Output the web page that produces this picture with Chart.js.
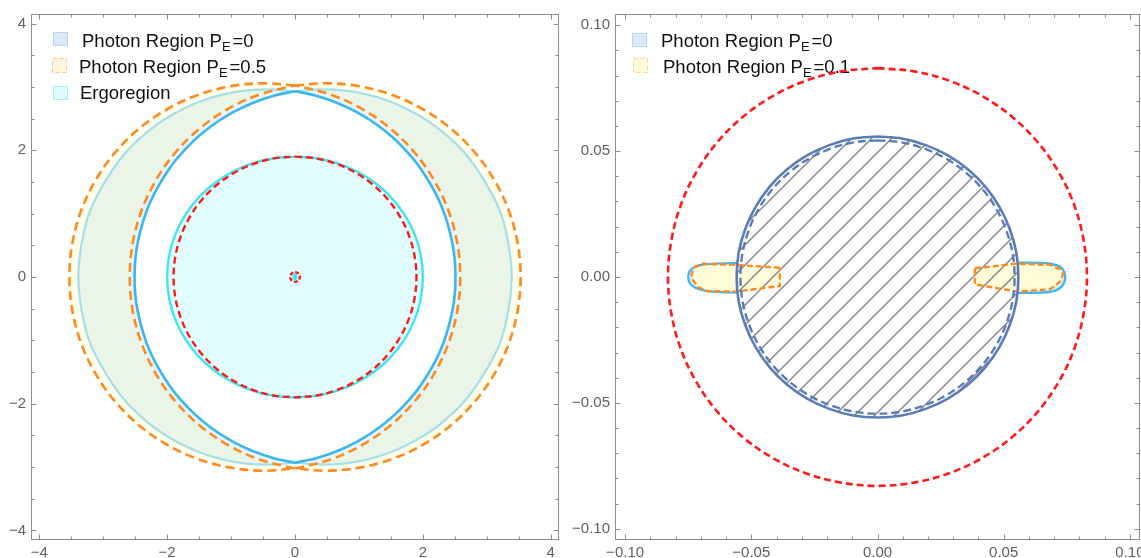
<!DOCTYPE html>
<html>
<head>
<meta charset="utf-8">
<script src="https://cdn.jsdelivr.net/npm/chart.js@4/dist/chart.umd.min.js"></script>
<style>
  html, body { margin: 0; padding: 0; background: #ffffff; overflow: hidden; width: 1141px; height: 558px; }
  .panel { position: absolute; top: 0; }
  #panelLeft { left: 0; width: 570px; height: 558px; }
  #panelRight { left: 570px; width: 590px; height: 558px; }
  canvas { display: block; }
</style>
</head>
<body>
<div class="panel" id="panelLeft"><canvas id="leftChart" width="570" height="558"></canvas></div>
<div class="panel" id="panelRight"><canvas id="rightChart" width="590" height="558"></canvas></div>
<script>
// ---------- Left panel: photon regions (P_E = 0 and 0.5), ergoregion, horizons ----------
const leftTickValues = [-4, -2, 0, 2, 4];
const leftTickLabels = ['\u22124', '\u22122', '0', '2', '4'];

// Photon region P_E = 0, outer boundary (top -> right/left -> bottom)
const pe0OuterRight = [[0,2.93],[0.400,2.961],[0.761,2.944],[1.139,2.877],[1.516,2.757],[1.907,2.568],[2.306,2.293],[2.714,1.886],[3.128,1.220],[3.299,0.727],[3.39,0],[3.299,-0.727],[3.128,-1.220],[2.714,-1.886],[2.306,-2.293],[1.907,-2.568],[1.516,-2.757],[1.139,-2.877],[0.761,-2.944],[0.400,-2.961],[0,-2.93]];
const pe0OuterLeft = [[0,2.93],[-0.400,2.961],[-0.761,2.944],[-1.139,2.877],[-1.516,2.757],[-1.907,2.568],[-2.306,2.293],[-2.714,1.886],[-3.128,1.220],[-3.299,0.727],[-3.39,0],[-3.299,-0.727],[-3.128,-1.220],[-2.714,-1.886],[-2.306,-2.293],[-1.907,-2.568],[-1.516,-2.757],[-1.139,-2.877],[-0.761,-2.944],[-0.400,-2.961],[0,-2.93]];
// Photon region P_E = 0, inner boundary
const pe0InnerRight = [[0,2.93],[0.316,2.864],[0.652,2.750],[0.988,2.589],[1.318,2.375],[1.642,2.094],[1.964,1.713],[2.278,1.151],[2.463,0.528],[2.51,0],[2.463,-0.528],[2.278,-1.151],[1.964,-1.713],[1.642,-2.094],[1.318,-2.375],[0.988,-2.589],[0.652,-2.750],[0.316,-2.864],[0,-2.93]];
const pe0InnerLeft = [[0,2.93],[-0.316,2.864],[-0.652,2.750],[-0.988,2.589],[-1.318,2.375],[-1.642,2.094],[-1.964,1.713],[-2.278,1.151],[-2.463,0.528],[-2.51,0],[-2.463,-0.528],[-2.278,-1.151],[-1.964,-1.713],[-1.642,-2.094],[-1.318,-2.375],[-0.988,-2.589],[-0.652,-2.750],[-0.316,-2.864],[0,-2.93]];

// Photon region P_E = 0.5, outer and inner arcs
const pe05OuterRight = [[0,3.020],[0.473,3.057],[1.004,3.011],[1.519,2.873],[2.001,2.647],[2.438,2.342],[2.814,1.965],[3.119,1.529],[3.346,1.046],[3.483,0.531],[3.530,0],[3.483,-0.531],[3.346,-1.046],[3.119,-1.529],[2.814,-1.965],[2.438,-2.342],[2.001,-2.647],[1.519,-2.873],[1.004,-3.011],[0.473,-3.057],[0,-3.020]];
const pe05OuterLeft = [[0,3.020],[-0.473,3.057],[-1.004,3.011],[-1.519,2.873],[-2.001,2.647],[-2.438,2.342],[-2.814,1.965],[-3.119,1.529],[-3.346,1.046],[-3.483,0.531],[-3.530,0],[-3.483,-0.531],[-3.346,-1.046],[-3.119,-1.529],[-2.814,-1.965],[-2.438,-2.342],[-2.001,-2.647],[-1.519,-2.873],[-1.004,-3.011],[-0.473,-3.057],[0,-3.020]];
const pe05InnerRight = [[0,3.020],[0.058,3.011],[0.574,2.873],[1.057,2.647],[1.493,2.342],[1.870,1.965],[2.175,1.529],[2.401,1.046],[2.539,0.531],[2.585,0],[2.539,-0.531],[2.401,-1.046],[2.175,-1.529],[1.870,-1.965],[1.493,-2.342],[1.057,-2.647],[0.574,-2.873],[0.058,-3.011],[0,-3.020]];
const pe05InnerLeft = [[0,3.020],[-0.058,3.011],[-0.574,2.873],[-1.057,2.647],[-1.493,2.342],[-1.870,1.965],[-2.175,1.529],[-2.401,1.046],[-2.539,0.531],[-2.585,0],[-2.539,-0.531],[-2.401,-1.046],[-2.175,-1.529],[-1.870,-1.965],[-1.493,-2.342],[-1.057,-2.647],[-0.574,-2.873],[-0.058,-3.011],[0,-3.020]];

// Ergoregion boundary
const ergoRight = [[0,1.900],[0.330,1.874],[0.654,1.797],[0.963,1.668],[1.249,1.488],[1.501,1.260],[1.711,0.988],[1.869,0.680],[1.967,0.347],[2.000,0],[1.967,-0.347],[1.869,-0.680],[1.711,-0.988],[1.501,-1.260],[1.249,-1.488],[0.963,-1.668],[0.654,-1.797],[0.330,-1.874],[0,-1.900]];
const ergoLeft = [[0,1.900],[-0.330,1.874],[-0.654,1.797],[-0.963,1.668],[-1.249,1.488],[-1.501,1.260],[-1.711,0.988],[-1.869,0.680],[-1.967,0.347],[-2.000,0],[-1.967,-0.347],[-1.869,-0.680],[-1.711,-0.988],[-1.501,-1.260],[-1.249,-1.488],[-0.963,-1.668],[-0.654,-1.797],[-0.330,-1.874],[0,-1.900]];

// Outer horizon
const horizonRight = [[0,1.9],[0.330,1.871],[0.650,1.785],[0.950,1.645],[1.221,1.455],[1.455,1.221],[1.645,0.950],[1.785,0.650],[1.871,0.330],[1.9,0],[1.871,-0.330],[1.785,-0.650],[1.645,-0.950],[1.455,-1.221],[1.221,-1.455],[0.950,-1.645],[0.650,-1.785],[0.330,-1.871],[0,-1.9]];
const horizonLeft = [[0,1.9],[-0.330,1.871],[-0.650,1.785],[-0.950,1.645],[-1.221,1.455],[-1.455,1.221],[-1.645,0.950],[-1.785,0.650],[-1.871,0.330],[-1.9,0],[-1.871,-0.330],[-1.785,-0.650],[-1.645,-0.950],[-1.455,-1.221],[-1.221,-1.455],[-0.950,-1.645],[-0.650,-1.785],[-0.330,-1.871],[0,-1.9]];

// Inner horizon and inner ergosurface near the centre
const innerHorizon = [[0,0.075],[0.0375,0.065],[0.065,0.0375],[0.075,0],[0.065,-0.0375],[0.0375,-0.065],[0,-0.075],[-0.0375,-0.065],[-0.065,-0.0375],[-0.075,0],[-0.065,0.0375],[-0.0375,0.065],[0,0.075]];
const innerErgo = [[0,0.07],[0.03,0.035],[0.04,0],[0.03,-0.035],[0,-0.07],[-0.03,-0.035],[-0.04,0],[-0.03,0.035],[0,0.07]];

// ---------- Right panel: close-up near the horizon (P_E = 0 and 0.1) ----------
const rightTickValues = [-0.1, -0.05, 0, 0.05, 0.1];
const rightTickLabels = ['\u22120.10', '\u22120.05', '0.00', '0.05', '0.10'];

const outerDashedCircle = [[0,0.083],[0.0144,0.0817],[0.0284,0.0780],[0.0415,0.0719],[0.0534,0.0636],[0.0636,0.0534],[0.0719,0.0415],[0.0780,0.0284],[0.0817,0.0144],[0.083,0],[0.0817,-0.0144],[0.0780,-0.0284],[0.0719,-0.0415],[0.0636,-0.0534],[0.0534,-0.0636],[0.0415,-0.0719],[0.0284,-0.0780],[0.0144,-0.0817],[0,-0.083],[-0.0144,-0.0817],[-0.0284,-0.0780],[-0.0415,-0.0719],[-0.0534,-0.0636],[-0.0636,-0.0534],[-0.0719,-0.0415],[-0.0780,-0.0284],[-0.0817,-0.0144],[-0.083,0],[-0.0817,0.0144],[-0.0780,0.0284],[-0.0719,0.0415],[-0.0636,0.0534],[-0.0534,0.0636],[-0.0415,0.0719],[-0.0284,0.0780],[-0.0144,0.0817],[0,0.083]];
const horizonSolid = [[0,0.0558],[0.0097,0.0550],[0.0191,0.0524],[0.0279,0.0483],[0.0359,0.0427],[0.0427,0.0359],[0.0483,0.0279],[0.0524,0.0191],[0.0550,0.0097],[0.0558,0],[0.0550,-0.0097],[0.0524,-0.0191],[0.0483,-0.0279],[0.0427,-0.0359],[0.0359,-0.0427],[0.0279,-0.0483],[0.0191,-0.0524],[0.0097,-0.0550],[0,-0.0558],[-0.0097,-0.0550],[-0.0191,-0.0524],[-0.0279,-0.0483],[-0.0359,-0.0427],[-0.0427,-0.0359],[-0.0483,-0.0279],[-0.0524,-0.0191],[-0.0550,-0.0097],[-0.0558,0],[-0.0550,0.0097],[-0.0524,0.0191],[-0.0483,0.0279],[-0.0427,0.0359],[-0.0359,0.0427],[-0.0279,0.0483],[-0.0191,0.0524],[-0.0097,0.0550],[0,0.0558]];
const horizonDashed = [[0,0.0543],[0.0094,0.0535],[0.0186,0.0510],[0.0272,0.0470],[0.0349,0.0416],[0.0416,0.0349],[0.0470,0.0272],[0.0510,0.0186],[0.0535,0.0094],[0.0543,0],[0.0535,-0.0094],[0.0510,-0.0186],[0.0470,-0.0272],[0.0416,-0.0349],[0.0349,-0.0416],[0.0272,-0.0470],[0.0186,-0.0510],[0.0094,-0.0535],[0,-0.0543],[-0.0094,-0.0535],[-0.0186,-0.0510],[-0.0272,-0.0470],[-0.0349,-0.0416],[-0.0416,-0.0349],[-0.0470,-0.0272],[-0.0510,-0.0186],[-0.0535,-0.0094],[-0.0543,0],[-0.0535,0.0094],[-0.0510,0.0186],[-0.0470,0.0272],[-0.0416,0.0349],[-0.0349,0.0416],[-0.0272,0.0470],[-0.0186,0.0510],[-0.0094,0.0535],[0,0.0543]];

// P_E = 0 lobes outside the horizon
const lobe0Left = [[-0.0557,0.0056],[-0.0625,0.0054],[-0.0684,0.0050],[-0.0724,0.0040],[-0.0744,0.0024],[-0.0750,0],[-0.0744,-0.0024],[-0.0724,-0.0042],[-0.0684,-0.0054],[-0.0625,-0.0060],[-0.0557,-0.0062]];
const lobe0Right = [[0.0556,0.0057],[0.0643,0.0056],[0.0698,0.0050],[0.0730,0.0036],[0.0744,0],[0.0730,-0.0038],[0.0698,-0.0056],[0.0643,-0.0062],[0.0556,-0.0063]];
// P_E = 0.1 lobes
const lobe01Left = [[-0.0387,0.0037],[-0.0559,0.0048],[-0.0691,0.0053],[-0.0724,0.0040],[-0.0737,0.0011],[-0.0731,-0.0013],[-0.0711,-0.0040],[-0.0677,-0.0056],[-0.0559,-0.0058],[-0.0387,-0.0036],[-0.0387,0.0037]];
const lobe01Right = [[0.0386,0.0035],[0.0551,0.0053],[0.0683,0.0048],[0.0723,0.0031],[0.0735,0.0011],[0.0723,-0.0019],[0.0683,-0.0049],[0.0551,-0.0058],[0.0386,-0.0029],[0.0386,0.0035]];

// ---------- Styling ----------
const FONT = "'Liberation Sans', Arial, Helvetica, sans-serif";
const C = {
  frame: '#8e8e8e',
  tickText: '#5f5f5f',
  blueEdge: '#3db6ee',
  outerEdge: '#a4e0ea',
  pe0Fill: 'rgba(120,195,235,0.185)',
  pe05Fill: 'rgba(255,250,150,0.2)',
  orange: '#ff8a1e',
  ergoFill: '#e2fdfd',
  ergoEdge: '#3fe6f0',
  red: '#ff1a1a',
  steel: '#5b7db7',
  hatch: '#7d7d7d',
  lobeBlue: '#d8ebf9',
  lobeYellow: '#fffcd8'
};

function closeLoop(a, b) { return a.concat(b.slice().reverse()); }
function lineSet(data, color, width, dash, tension) {
  return { data, borderColor: color, borderWidth: width, borderDash: dash || [], fill: false, backgroundColor: 'transparent', pointRadius: 0, tension: tension === undefined ? 0.35 : tension };
}
function fillSet(data, color, tension) {
  return { data, borderColor: 'transparent', borderWidth: 0, fill: 'shape', backgroundColor: color, pointRadius: 0, tension: tension === undefined ? 0.35 : tension };
}
// datasets are listed bottom layer first
function stacked(list) { list.forEach((d, i) => { d.order = list.length - i; }); return list; }

function stepValues(from, to, step) {
  const out = [];
  const n = Math.round((to - from) / step);
  for (let i = 0; i <= n; i++) out.push(+(from + i * step).toFixed(6));
  return out;
}

// Frame with inward ticks on all four sides
const frameTicks = {
  id: 'frameTicks',
  afterDraw(chart, _args, o) {
    const { ctx, chartArea: a } = chart;
    const xs = chart.scales.x, ys = chart.scales.y;
    const L = Math.round(a.left) + 0.5, R = Math.round(a.right) - 0.5;
    const T = Math.round(a.top) + 0.5, B = Math.round(a.bottom) - 0.5;
    ctx.save();
    ctx.strokeStyle = o.color;
    ctx.lineWidth = 1;
    ctx.beginPath();
    const xMarks = (vals, len) => vals.forEach(v => {
      const p = Math.round(xs.getPixelForValue(v)) + 0.5;
      ctx.moveTo(p, B); ctx.lineTo(p, B - len);
      ctx.moveTo(p, T); ctx.lineTo(p, T + len);
    });
    const yMarks = (vals, len) => vals.forEach(v => {
      const p = Math.round(ys.getPixelForValue(v)) + 0.5;
      ctx.moveTo(L, p); ctx.lineTo(L + len, p);
      ctx.moveTo(R, p); ctx.lineTo(R - len, p);
    });
    xMarks(o.minorX, o.minorLen); yMarks(o.minorY, o.minorLen);
    xMarks(o.majorX, o.majorLen); yMarks(o.majorY, o.majorLen);
    ctx.stroke();
    ctx.strokeRect(L, T, R - L, B - T);
    ctx.restore();
  }
};

// Legend with subscripted labels, drawn beneath the curves
const subLegend = {
  id: 'subLegend',
  beforeDatasetsDraw(chart, _args, o) {
    const ctx = chart.ctx;
    ctx.save();
    o.items.forEach(it => {
      const [bx, by, bw, bh] = it.box;
      ctx.fillStyle = it.fill;
      ctx.fillRect(bx, by, bw, bh);
      ctx.strokeStyle = it.stroke;
      ctx.lineWidth = 1;
      ctx.setLineDash(it.dash || []);
      ctx.strokeRect(bx + 0.5, by + 0.5, bw - 1, bh - 1);
      ctx.setLineDash([]);
      ctx.fillStyle = o.color;
      ctx.textAlign = 'left';
      ctx.textBaseline = 'alphabetic';
      let x = it.x;
      ctx.font = o.font;
      ctx.fillText(it.text, x, it.baseline);
      x += ctx.measureText(it.text).width;
      if (it.sub) {
        ctx.font = o.subFont;
        ctx.fillText(it.sub, x, it.baseline + o.subShift);
        x += ctx.measureText(it.sub).width + o.subGap;
        ctx.font = o.font;
        ctx.fillText(it.tail, x, it.baseline);
      }
    });
    ctx.restore();
  }
};

function axisOptions(min, max, values, labels, isX, size, pad) {
  return {
    type: 'linear', min, max,
    afterBuildTicks: s => { s.ticks = values.map(v => ({ value: v })); },
    afterFit: s => { if (isX) s.height = size; else s.width = size; },
    grid: { display: false, drawTicks: false, tickLength: 0 },
    border: { display: false },
    ticks: {
      autoSkip: false, maxRotation: 0, minRotation: 0, padding: pad,
      color: C.tickText, font: { family: FONT, size: 15 },
      callback: (v, i) => labels[i]
    }
  };
}

function chartOptions(cfg) {
  return {
    responsive: false,
    animation: false,
    events: [],
    layout: { autoPadding: false, padding: { left: 0, right: cfg.padRight, top: 13, bottom: 0 } },
    elements: { point: { radius: 0, hoverRadius: 0, hitRadius: 0 }, line: { borderCapStyle: 'butt', borderJoinStyle: 'round' } },
    plugins: {
      legend: { display: false },
      tooltip: { enabled: false },
      frameTicks: { color: C.frame, majorLen: 5, minorLen: 3, majorX: cfg.major, majorY: cfg.major, minorX: cfg.minor, minorY: cfg.minor },
      subLegend: { color: '#111111', font: '18.5px ' + FONT, subFont: '13px ' + FONT, subShift: 4, subGap: 2, items: cfg.legend }
    },
    scales: {
      x: axisOptions(cfg.xMin, cfg.xMax, cfg.major, cfg.labels, true, 18, 4),
      y: axisOptions(cfg.yMin, cfg.yMax, cfg.major, cfg.labels, false, cfg.yAxisWidth, 5)
    }
  };
}

// ---------- Left chart ----------
const leftDatasets = stacked([
  fillSet(closeLoop(pe0OuterRight, pe0InnerRight), C.pe0Fill),
  fillSet(closeLoop(pe0OuterLeft, pe0InnerLeft), C.pe0Fill),
  fillSet(closeLoop(pe05OuterRight, pe05InnerRight), C.pe05Fill),
  fillSet(closeLoop(pe05OuterLeft, pe05InnerLeft), C.pe05Fill),
  fillSet(closeLoop(ergoRight, ergoLeft), C.ergoFill),
  lineSet(closeLoop(pe0OuterRight, pe0OuterLeft), C.outerEdge, 2.2),
  lineSet(closeLoop(pe0InnerRight, pe0InnerLeft), C.blueEdge, 2.6),
  lineSet(closeLoop(pe05OuterRight, pe05InnerLeft), C.orange, 2.6, [9, 5]),
  lineSet(closeLoop(pe05OuterLeft, pe05InnerRight), C.orange, 2.6, [9, 5]),
  lineSet(closeLoop(ergoRight, ergoLeft), C.ergoEdge, 2.4),
  lineSet(closeLoop(horizonRight, horizonLeft), C.red, 2.4, [7, 4]),
  lineSet(innerHorizon, C.red, 2.4, [4, 2]),
  fillSet(innerErgo, C.ergoEdge)
]);

new Chart(document.getElementById('leftChart'), {
  type: 'line',
  data: { datasets: leftDatasets },
  options: chartOptions({
    xMin: -4.13, xMax: 4.13, yMin: -4.15, yMax: 4.15,
    major: leftTickValues, labels: leftTickLabels, minor: stepValues(-4, 4, 0.5),
    padRight: 11, yAxisWidth: 31,
    legend: [
      { box: [53, 32, 15, 14], fill: '#dbe9f8', stroke: '#b8d6f1', x: 82, baseline: 47, text: 'Photon Region P', sub: 'E', tail: '=0' },
      { box: [52, 58, 15, 15], fill: '#fff6dc', stroke: '#ffc88a', dash: [4, 3], x: 79, baseline: 73, text: 'Photon Region P', sub: 'E', tail: '=0.5' },
      { box: [53, 86, 15, 14], fill: '#dcfdfd', stroke: '#a9eff5', x: 80, baseline: 99, text: 'Ergoregion' }
    ]
  }),
  plugins: [frameTicks, subLegend]
});

// ---------- Right chart ----------
function hatchPattern(step, color, width) {
  const c = document.createElement('canvas');
  c.width = step; c.height = step;
  const g = c.getContext('2d');
  g.strokeStyle = color; g.lineWidth = width;
  g.beginPath();
  g.moveTo(-1, step + 1); g.lineTo(step + 1, -1);
  g.moveTo(-2, 2); g.lineTo(2, -2);
  g.moveTo(step - 2, step + 2); g.lineTo(step + 2, step - 2);
  g.stroke();
  return document.getElementById('rightChart').getContext('2d').createPattern(c, 'repeat');
}

const rightDatasets = stacked([
  fillSet(lobe0Left, C.lobeBlue, 0.3),
  fillSet(lobe0Right, C.lobeBlue, 0.3),
  fillSet(lobe01Left, C.lobeYellow, 0),
  fillSet(lobe01Right, C.lobeYellow, 0),
  fillSet(horizonSolid, hatchPattern(20, C.hatch, 1.3)),
  lineSet(lobe0Left, C.blueEdge, 2.2, [], 0.3),
  lineSet(lobe0Right, C.blueEdge, 2.2, [], 0.3),
  lineSet(lobe01Left, C.orange, 2.4, [6, 3], 0),
  lineSet(lobe01Right, C.orange, 2.4, [6, 3], 0),
  lineSet(horizonSolid, C.steel, 2.6),
  lineSet(horizonDashed, C.steel, 2.4, [8, 4]),
  lineSet(outerDashedCircle, C.red, 2.6, [7, 4])
]);

new Chart(document.getElementById('rightChart'), {
  type: 'line',
  data: { datasets: rightDatasets },
  options: chartOptions({
    xMin: -0.104, xMax: 0.104, yMin: -0.1045, yMax: 0.1045,
    major: rightTickValues, labels: rightTickLabels, minor: stepValues(-0.1, 0.1, 0.01),
    padRight: 20, yAxisWidth: 45,
    legend: [
      { box: [62, 33, 15, 14], fill: '#dbe9f8', stroke: '#b8d6f1', x: 91, baseline: 47, text: 'Photon Region P', sub: 'E', tail: '=0' },
      { box: [63, 58, 15, 15], fill: '#fff7da', stroke: '#ffd38e', dash: [4, 3], x: 93, baseline: 73, text: 'Photon Region P', sub: 'E', tail: '=0.1' }
    ]
  }),
  plugins: [frameTicks, subLegend]
});
</script>
</body>
</html>
